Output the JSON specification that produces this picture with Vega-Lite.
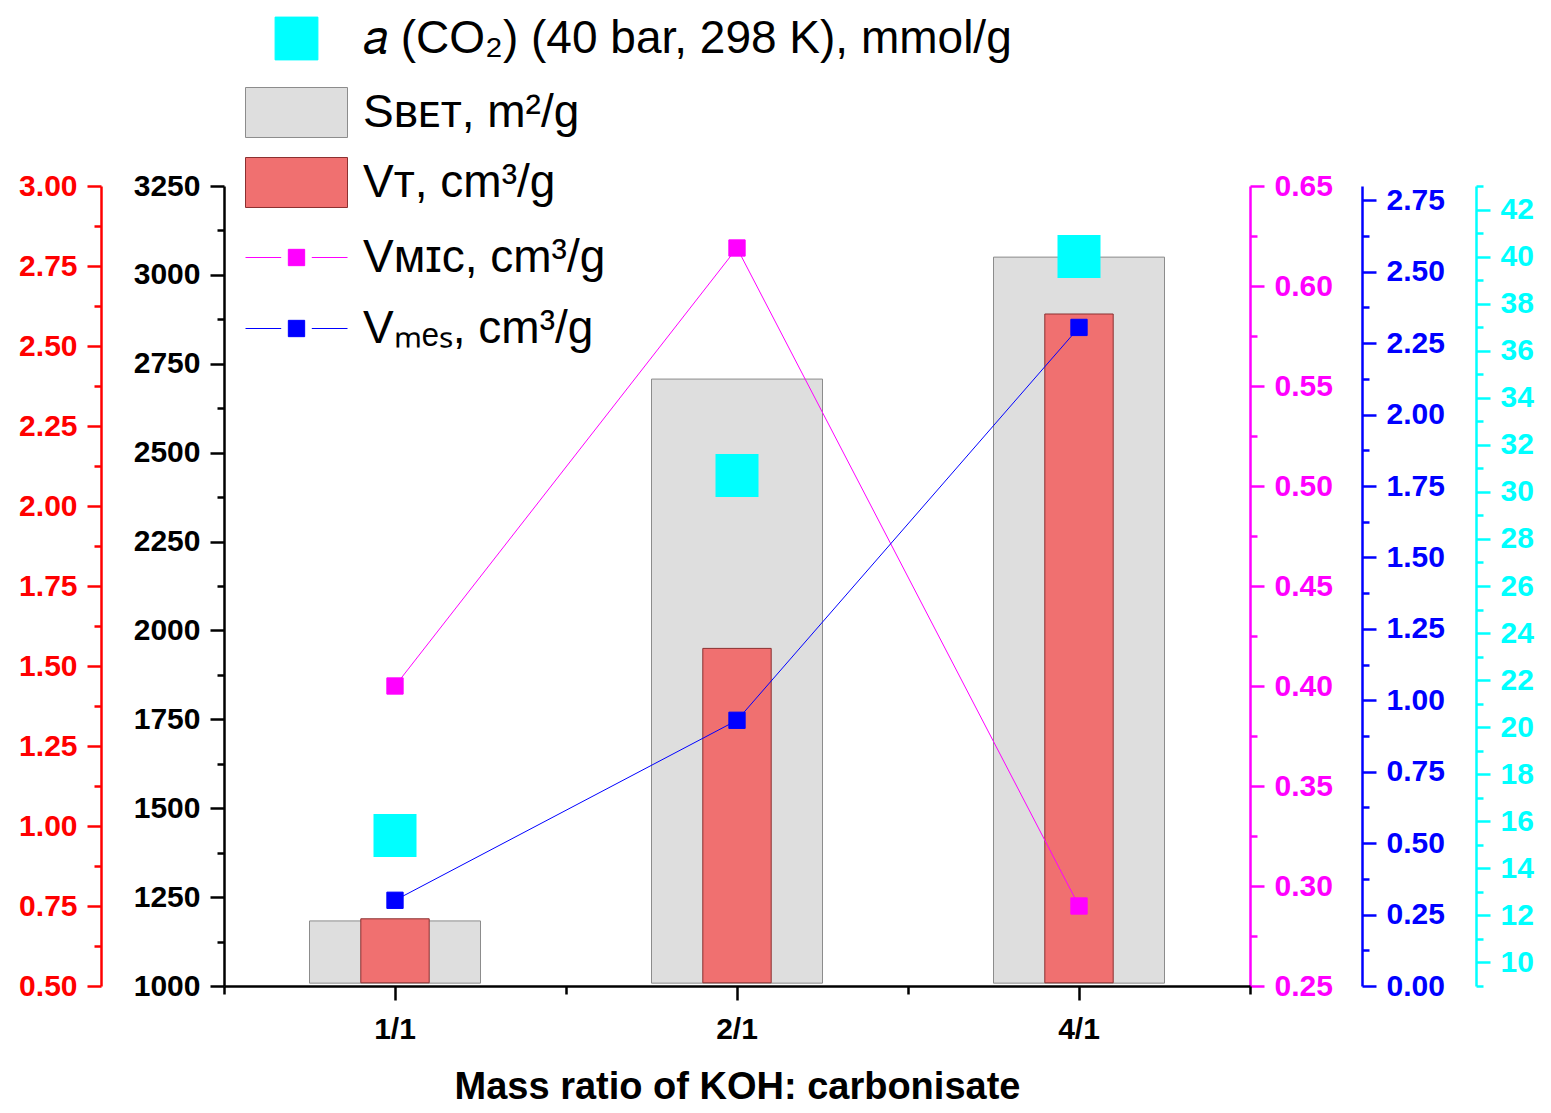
{
  "$schema": "https://vega.github.io/schema/vega-lite/v6.json",
  "width": 1026,
  "height": 800,
  "autosize": {"type": "none"},
  "padding": {"left": 224, "top": 186, "right": 301, "bottom": 127},
  "background": "white",
  "data": {
    "values": [
      {"ratio": "1/1", "S_BET": 1183, "V_T": 0.71, "V_mic": 0.4, "V_mes": 0.3, "a_CO2": 15.4},
      {"ratio": "2/1", "S_BET": 2707, "V_T": 1.555, "V_mic": 0.619, "V_mes": 0.93, "a_CO2": 30.7},
      {"ratio": "4/1", "S_BET": 3050, "V_T": 2.6, "V_mic": 0.29, "V_mes": 2.305, "a_CO2": 40.0}
    ]
  },
  "encoding": {
    "x": {
      "field": "ratio", "type": "ordinal", "sort": null,
      "scale": {"paddingInner": 0, "paddingOuter": 0},
      "axis": null
    }
  },
  "layer": [
    {
      "mark": {"type": "bar", "width": {"band": 0.5}, "fill": "#DEDEDE", "stroke": "#8C8C8C", "strokeWidth": 1},
      "encoding": {
        "x": {
          "field": "ratio", "type": "ordinal", "sort": null,
          "scale": {"paddingInner": 0, "paddingOuter": 0},
          "axis": {"orient": "bottom", "tickBand": "extent", "tickSize": 8, "labels": false, "title": null, "domain": true, "zindex": 2}
        },
        "y": {
          "field": "S_BET", "type": "quantitative",
          "scale": {"domain": [1000, 3250], "zero": false, "nice": false},
          "axis": {
            "orient": "left", "offset": 0, "title": null,
            "values": [1000, 1125, 1250, 1375, 1500, 1625, 1750, 1875, 2000, 2125, 2250, 2375, 2500, 2625, 2750, 2875, 3000, 3125, 3250],
            "labelExpr": "datum.value % 250 == 0 ? format(datum.value, 'd') : ''",
            "tickSize": {"condition": {"test": "datum.value % 250 == 0", "value": 14}, "value": 7},
            "domainColor": "#000000", "tickColor": "#000000", "labelColor": "#000000"
          }
        },
        "y2": {"datum": 1008},
        "fill": {
          "datum": "Sʙᴇᴛ, m²/g",
          "scale": {"range": ["#DEDEDE"]},
          "legend": {"title": null, "orient": "none", "legendX": 21, "legendY": -125,
            "symbolType": "M-1,-0.49H1V0.49H-1Z", "symbolStrokeColor": "#8C8C8C"}
        }
      }
    },
    {
      "mark": {"type": "bar", "width": {"band": 0.2}, "fill": "#F07070", "stroke": "#8B3030", "strokeWidth": 1},
      "encoding": {
        "x": {
          "field": "ratio", "type": "ordinal", "sort": null,
          "scale": {"paddingInner": 0, "paddingOuter": 0},
          "axis": {
            "orient": "bottom", "tickSize": 14, "domain": false, "labelAngle": 0,
            "labelPadding": 14, "zindex": 2,
            "title": "Mass ratio of KOH: carbonisate",
            "titleFont": "Liberation Sans", "titleFontWeight": "bold", "titleFontSize": 38,
            "titleColor": "#000000", "titlePadding": 24
          }
        },
        "y": {
          "field": "V_T", "type": "quantitative",
          "scale": {"domain": [0.5, 3.0], "zero": false, "nice": false},
          "axis": {
            "orient": "left", "offset": 123, "title": null,
            "values": [0.5, 0.625, 0.75, 0.875, 1, 1.125, 1.25, 1.375, 1.5, 1.625, 1.75, 1.875, 2, 2.125, 2.25, 2.375, 2.5, 2.625, 2.75, 2.875, 3],
            "labelExpr": "abs(datum.value*4 - round(datum.value*4)) < 1e-6 ? format(datum.value, '.2f') : ''",
            "tickSize": {"condition": {"test": "abs(datum.value*4 - round(datum.value*4)) < 1e-6", "value": 14}, "value": 7},
            "domainColor": "#FF0000", "tickColor": "#FF0000", "labelColor": "#FF0000"
          }
        },
        "y2": {"datum": 0.51},
        "fill": {
          "datum": "Vᴛ, cm³/g",
          "scale": {"range": ["#F07070"]},
          "legend": {"title": null, "orient": "none", "legendX": 21, "legendY": -55,
            "symbolType": "M-1,-0.49H1V0.49H-1Z", "symbolStrokeColor": "#8B3030"}
        }
      }
    },
    {
      "encoding": {
        "y": {
          "field": "V_mic", "type": "quantitative",
          "scale": {"domain": [0.25, 0.65], "zero": false, "nice": false},
          "axis": {
            "orient": "right", "offset": 0, "title": null,
            "values": [0.25, 0.275, 0.3, 0.325, 0.35, 0.375, 0.4, 0.425, 0.45, 0.475, 0.5, 0.525, 0.55, 0.575, 0.6, 0.625, 0.65],
            "labelExpr": "abs(datum.value*20 - round(datum.value*20)) < 1e-6 ? format(datum.value, '.2f') : ''",
            "tickSize": {"condition": {"test": "abs(datum.value*20 - round(datum.value*20)) < 1e-6", "value": 14}, "value": 7},
            "domainColor": "#FF00FF", "tickColor": "#FF00FF", "labelColor": "#FF00FF"
          }
        }
      },
      "layer": [
        {"mark": {"type": "line", "color": "#FF00FF", "strokeWidth": 1}},
        {
          "mark": {"type": "square", "size": 266, "filled": true, "opacity": 1, "stroke": "#FF00FF", "strokeWidth": 1},
          "encoding": {
            "fill": {
              "datum": "Vᴍɪᴄ, cm³/g",
              "scale": {"range": ["#FF00FF"]},
              "legend": {"title": null, "orient": "none", "legendX": 21, "legendY": 20,
                "symbolType": "M-1,0H-0.3M0.3,0H1M-0.16,-0.16H0.16V0.16H-0.16Z", "symbolStrokeColor": "#FF00FF"}
            }
          }
        }
      ]
    },
    {
      "encoding": {
        "y": {
          "field": "V_mes", "type": "quantitative",
          "scale": {"domain": [0, 2.8], "zero": false, "nice": false},
          "axis": {
            "orient": "right", "offset": 112, "title": null,
            "values": [0, 0.125, 0.25, 0.375, 0.5, 0.625, 0.75, 0.875, 1, 1.125, 1.25, 1.375, 1.5, 1.625, 1.75, 1.875, 2, 2.125, 2.25, 2.375, 2.5, 2.625, 2.75],
            "labelExpr": "abs(datum.value*4 - round(datum.value*4)) < 1e-6 ? format(datum.value, '.2f') : ''",
            "tickSize": {"condition": {"test": "abs(datum.value*4 - round(datum.value*4)) < 1e-6", "value": 14}, "value": 7},
            "domainColor": "#0000FF", "tickColor": "#0000FF", "labelColor": "#0000FF"
          }
        }
      },
      "layer": [
        {"mark": {"type": "line", "color": "#0000FF", "strokeWidth": 1}},
        {
          "mark": {"type": "square", "size": 266, "filled": true, "opacity": 1, "stroke": "#0000FF", "strokeWidth": 1},
          "encoding": {
            "fill": {
              "datum": "Vₘₑₛ, cm³/g",
              "scale": {"range": ["#0000FF"]},
              "legend": {"title": null, "orient": "none", "legendX": 21, "legendY": 91,
                "symbolType": "M-1,0H-0.3M0.3,0H1M-0.16,-0.16H0.16V0.16H-0.16Z", "symbolStrokeColor": "#0000FF"}
            }
          }
        }
      ]
    },
    {
      "mark": {"type": "square", "size": 1849, "filled": true, "opacity": 1},
      "encoding": {
        "y": {
          "field": "a_CO2", "type": "quantitative",
          "scale": {"domain": [9, 43], "zero": false, "nice": false},
          "axis": {
            "orient": "right", "offset": 226, "title": null,
            "values": [9, 10, 11, 12, 13, 14, 15, 16, 17, 18, 19, 20, 21, 22, 23, 24, 25, 26, 27, 28, 29, 30, 31, 32, 33, 34, 35, 36, 37, 38, 39, 40, 41, 42, 43],
            "labelExpr": "datum.value % 2 == 0 ? format(datum.value, 'd') : ''",
            "tickSize": {"condition": {"test": "datum.value % 2 == 0", "value": 14}, "value": 7},
            "domainColor": "#00FFFF", "tickColor": "#00FFFF", "labelColor": "#00FFFF"
          }
        },
        "fill": {
          "datum": "𝑎 (CO₂) (40 bar, 298 K), mmol/g",
          "scale": {"range": ["#00FFFF"]},
          "legend": {"title": null, "orient": "none", "legendX": 21, "legendY": -199,
            "symbolType": "M-0.42,-0.42H0.42V0.42H-0.42Z", "symbolStrokeColor": "#00FFFF"}
        }
      }
    }
  ],
  "resolve": {
    "scale": {"y": "independent", "fill": "independent"},
    "axis": {"x": "independent"},
    "legend": {"fill": "independent"}
  },
  "config": {
    "view": {"stroke": null},
    "axis": {
      "grid": false,
      "domainWidth": 2.5,
      "tickWidth": 2.5,
      "domainColor": "#000000",
      "tickColor": "#000000",
      "labelColor": "#000000",
      "labelFont": "Liberation Sans",
      "labelFontWeight": "bold",
      "labelFontSize": 30,
      "labelPadding": 10,
      "labelOverlap": false,
      "labelFlush": false
    },
    "legend": {
      "labelFont": "Liberation Sans",
      "labelFontSize": 46,
      "labelColor": "#000000",
      "labelLimit": 1200,
      "labelOffset": 15,
      "symbolSize": 10404,
      "symbolStrokeWidth": 1,
      "symbolOpacity": 1,
      "padding": 0
    }
  }
}
